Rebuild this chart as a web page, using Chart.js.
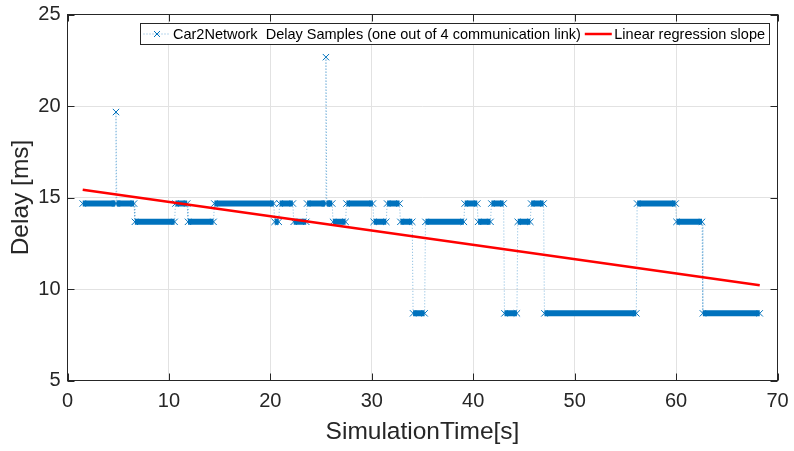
<!DOCTYPE html>
<html>
<head>
<meta charset="utf-8">
<script src="https://cdn.jsdelivr.net/npm/chart.js@4.4.1/dist/chart.umd.min.js"></script>
<style>
html, body { margin: 0; padding: 0; background: #ffffff; }
#wrap { width: 794px; height: 451px; }
</style>
</head>
<body>
<div id="wrap"><canvas id="delay_graph"></canvas></div>
<script>
// runs of equal delay samples: start time [s], end time [s], delay [ms]
// (a run with start == end is a single sample)
let run_start = [1.50, 4.78, 4.86, 6.64, 10.64, 11.88, 14.48, 20.42, 20.91, 22.30,
                 23.62, 25.48, 25.56, 26.18, 27.50, 30.19, 31.51, 32.82, 34.07, 35.29,
                 39.16, 40.48, 41.79, 43.08, 44.39, 45.71, 47.02, 56.16, 60.04, 62.64];
let run_end   = [4.70, 4.78, 6.56, 10.56, 11.80, 14.40, 20.34, 20.83, 22.22, 23.54,
                 25.40, 25.48, 26.10, 27.42, 30.11, 31.43, 32.74, 33.99, 35.21, 39.08,
                 40.40, 41.71, 43.00, 44.31, 45.63, 46.94, 56.08, 59.96, 62.56, 68.25];
let run_delay = [14.67, 19.67, 14.67, 13.67, 14.67, 13.67, 14.67, 13.67, 14.67, 13.67,
                 14.67, 22.67, 14.67, 13.67, 14.67, 13.67, 14.67, 13.67, 8.67, 13.67,
                 14.67, 13.67, 14.67, 8.67, 13.67, 14.67, 8.67, 14.67, 13.67, 8.67];

// linear regression line
let slope_time  = [1.5, 68.25];
let slope_delay = [15.42, 10.21];

let x_ticks = [0, 10, 20, 30, 40, 50, 60, 70];
let y_ticks = [5, 10, 15, 20, 25];

let sample_label = "Car2Network  Delay Samples (one out of 4 communication link)";
let slope_label  = "Linear regression slope";

const blue = "#0072BD";
const axis_color = "#262626";
const font_family = "'Liberation Sans', Arial, Helvetica, sans-serif";

window.addEventListener("load", function () {
    draw_delay_graph();
});

function draw_delay_graph() {

    let samples = [];
    for (let i = 0; i < run_start.length; i++) {
        samples.push({ x: run_start[i], y: run_delay[i] });
        if (run_end[i] !== run_start[i]) {
            samples.push({ x: run_end[i], y: run_delay[i] });
        }
    }
    let slope = [];
    for (let i = 0; i < slope_time.length; i++) {
        slope.push({ x: slope_time[i], y: slope_delay[i] });
    }

    // same delay -> solid band, change of delay -> thin dotted line
    const same = c => c.p0.parsed.y === c.p1.parsed.y;

    const frame_plugin = {
        id: "frame",
        afterDraw(chart) {
            const ctx = chart.ctx;
            const area = chart.chartArea;
            const xs = chart.scales.x;
            const ys = chart.scales.y;
            ctx.save();
            ctx.strokeStyle = axis_color;
            ctx.lineWidth = 1;
            ctx.strokeRect(area.left, area.top, area.right - area.left, area.bottom - area.top);
            ctx.beginPath();
            for (let v of x_ticks) {
                const px = Math.round(xs.getPixelForValue(v)) + 0.5;
                ctx.moveTo(px, area.bottom); ctx.lineTo(px, area.bottom - 7);
                ctx.moveTo(px, area.top);    ctx.lineTo(px, area.top + 7);
            }
            for (let v of y_ticks) {
                const py = Math.round(ys.getPixelForValue(v)) + 0.5;
                ctx.moveTo(area.left, py);  ctx.lineTo(area.left + 7, py);
                ctx.moveTo(area.right, py); ctx.lineTo(area.right - 7, py);
            }
            ctx.stroke();

            // legend box
            ctx.font = "14.5px " + font_family;
            const w1 = ctx.measureText(sample_label).width;
            const w2 = ctx.measureText(slope_label).width;
            const box_w = Math.round(3 + 27 + 2.5 + w1 + 4 + 27 + 2.5 + w2 + 4);
            const box_r = area.right - 8;
            const box_l = box_r - box_w;
            const box_t = area.top + 9;
            const box_h = 21;
            const mid = box_t + box_h / 2;
            ctx.fillStyle = "#ffffff";
            ctx.fillRect(box_l, box_t, box_w, box_h);
            ctx.strokeStyle = axis_color;
            ctx.strokeRect(box_l, box_t, box_w, box_h);

            let x0 = box_l + 3;
            ctx.strokeStyle = "rgba(0,114,189,0.55)";
            ctx.setLineDash([1, 2]);
            ctx.beginPath();
            ctx.moveTo(x0, mid); ctx.lineTo(x0 + 27, mid);
            ctx.stroke();
            ctx.setLineDash([]);
            ctx.strokeStyle = blue;
            ctx.beginPath();
            const cx = x0 + 13.5;
            ctx.moveTo(cx - 3, mid - 3); ctx.lineTo(cx + 3, mid + 3);
            ctx.moveTo(cx + 3, mid - 3); ctx.lineTo(cx - 3, mid + 3);
            ctx.stroke();

            ctx.fillStyle = "#000000";
            ctx.textBaseline = "middle";
            ctx.textAlign = "left";
            x0 += 27 + 2.5;
            ctx.fillText(sample_label, x0, mid + 0.5);
            x0 += w1 + 4;
            ctx.strokeStyle = "#FF0000";
            ctx.lineWidth = 2.5;
            ctx.beginPath();
            ctx.moveTo(x0, mid); ctx.lineTo(x0 + 27, mid);
            ctx.stroke();
            x0 += 27 + 2.5;
            ctx.fillText(slope_label, x0, mid + 0.5);
            ctx.restore();
        }
    };

    const ctx = document.getElementById("delay_graph").getContext("2d");
    const myChart = new Chart(ctx, {
        type: "line",
        data: {
            datasets: [{
                label: sample_label,
                data: samples,
                order: 1,
                borderColor: blue,
                backgroundColor: blue,
                borderWidth: 1,
                pointStyle: "crossRot",
                pointRadius: 4.5,
                pointBorderWidth: 1,
                pointBorderColor: blue,
                pointHoverRadius: 4.5,
                segment: {
                    borderWidth: c => same(c) ? 6 : 1,
                    borderColor: c => same(c) ? blue : "rgba(0,114,189,0.5)",
                    borderDash: c => same(c) ? [] : [1, 2]
                },
                tension: 0
            }, {
                label: slope_label,
                data: slope,
                order: 0,
                borderColor: "#FF0000",
                borderWidth: 2.5,
                pointRadius: 0,
                tension: 0
            }]
        },
        options: {
            responsive: true,
            maintainAspectRatio: false,
            animation: false,
            events: [],
            layout: { padding: { top: 14.5, right: 16.5, left: 0, bottom: 0 } },
            plugins: {
                legend: { display: false },
                tooltip: { enabled: false }
            },
            scales: {
                x: {
                    type: "linear",
                    min: 0,
                    max: 70,
                    afterBuildTicks: axis => { axis.ticks = x_ticks.map(v => ({ value: v })); },
                    afterFit: axis => {
                        axis.height = 70.5;
                        axis.paddingLeft = 0;
                        axis.paddingRight = 0;
                    },
                    grid: { color: "#e2e2e2", drawTicks: false },
                    border: { display: false },
                    ticks: {
                        color: axis_color,
                        padding: 9,
                        maxRotation: 0,
                        font: { family: font_family, size: 20 }
                    },
                    title: {
                        display: true,
                        text: "SimulationTime[s]",
                        color: axis_color,
                        padding: { top: 0, bottom: 4 },
                        font: { family: font_family, size: 24.5, lineHeight: 1.2 }
                    }
                },
                y: {
                    min: 5,
                    max: 25,
                    afterBuildTicks: axis => { axis.ticks = y_ticks.map(v => ({ value: v })); },
                    afterFit: axis => {
                        axis.width = 67.5;
                        axis.paddingTop = 0;
                        axis.paddingBottom = 0;
                    },
                    grid: { color: "#e2e2e2", drawTicks: false },
                    border: { display: false },
                    ticks: {
                        color: axis_color,
                        padding: 7,
                        font: { family: font_family, size: 20 }
                    },
                    title: {
                        display: true,
                        text: "Delay [ms]",
                        color: axis_color,
                        padding: { top: 7, bottom: 0 },
                        font: { family: font_family, size: 24.5, lineHeight: 1.2 }
                    }
                }
            }
        },
        plugins: [frame_plugin]
    });
}
</script>
</body>
</html>
